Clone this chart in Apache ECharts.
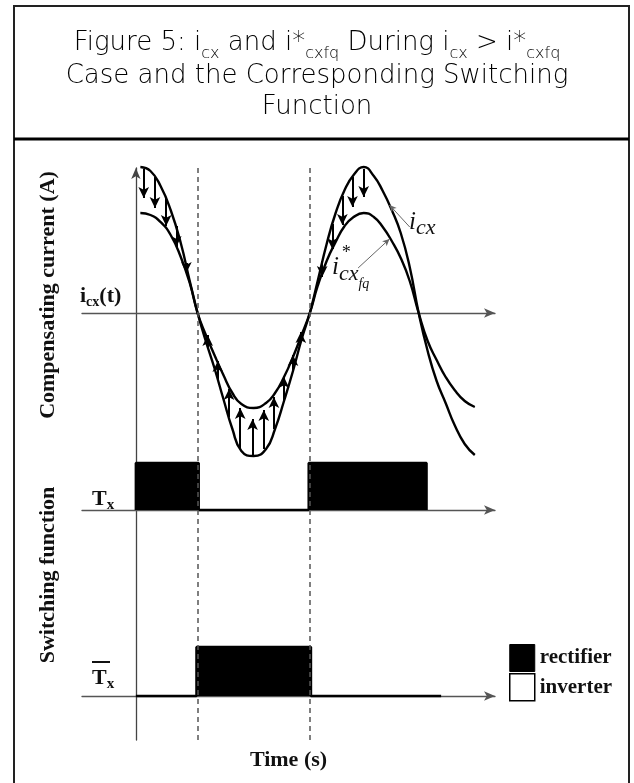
<!DOCTYPE html>
<html><head><meta charset="utf-8">
<script src="https://cdn.jsdelivr.net/npm/echarts@6/dist/echarts.min.js"></script>
<style>html,body{margin:0;padding:0;background:#fff}#c{width:634px;height:783px}</style>
</head><body><div id="c"></div>
<script>
// ---- data (time in ms, current in A, arbitrary scale) ----
const curveTime = [0.4, 1.3, 2.2, 3.1, 4.0, 4.8, 5.5, 6.2, 7.0, 7.8, 8.6, 9.4, 10.5, 11.6, 12.4, 13.2, 14.0, 14.8, 15.5, 16.2, 17.0, 17.8, 18.6, 19.4, 20.3, 21.2, 22.0, 22.8, 23.6, 24.4, 25.2, 26.0, 26.8, 27.6, 28.4, 29.3, 30.2];
const icxValue  = [1.46, 1.42, 1.27, 1.03, 0.70, 0.32, 0.00, -0.27, -0.55, -0.86, -1.16, -1.38, -1.43, -1.36, -1.16, -0.88, -0.58, -0.25, 0.00, 0.32, 0.69, 1.00, 1.23, 1.38, 1.46, 1.37, 1.22, 1.03, 0.80, 0.46, 0.00, -0.38, -0.68, -0.90, -1.12, -1.31, -1.42];
const fqValue   = [1.00, 0.98, 0.91, 0.78, 0.56, 0.30, 0.00, -0.21, -0.42, -0.62, -0.80, -0.91, -0.95, -0.90, -0.80, -0.64, -0.44, -0.21, 0.00, 0.27, 0.52, 0.71, 0.87, 0.96, 1.00, 0.96, 0.86, 0.72, 0.55, 0.32, 0.00, -0.28, -0.47, -0.64, -0.77, -0.88, -0.94];

const downArrowTime = [0.7, 1.7, 2.7, 3.6, 4.5, 16.6, 17.5, 18.4, 19.3, 20.3];
const downArrowFrom = [1.44, 1.36, 1.15, 0.87, 0.50, 0.52, 0.89, 1.17, 1.36, 1.44];
const downArrowTo   = [1.15, 1.05, 0.87, 0.66, 0.40, 0.36, 0.64, 0.88, 1.06, 1.16];
const upArrowTime = [6.4, 7.3, 8.3, 9.3, 10.4, 11.4, 12.3, 13.2, 14.0, 14.7];
const upArrowFrom = [-0.34, -0.66, -1.04, -1.35, -1.42, -1.36, -1.16, -0.87, -0.58, -0.29];
const upArrowTo   = [-0.22, -0.48, -0.76, -0.95, -1.06, -0.97, -0.84, -0.64, -0.42, -0.19];

const leaderStart = [[24.4, 0.86], [19.8, 0.45]];
const leaderEnd   = [[22.6, 1.08], [22.6, 0.74]];

const zeroCrossings = [5.5, 15.5];
const txOnStart = [0, 15.4];
const txOnEnd   = [5.6, 25.9];
const txBarOnStart = [5.4];
const txBarOnEnd   = [15.6];
const txBarLineEnd = 27.2;
const legendNames = ['rectifier', 'inverter'];
const tMin = -4.8, tMax = 32;

// ---- build series data ----
const icxData = curveTime.map((t, i) => [t, icxValue[i]]);
const fqData = curveTime.map((t, i) => [t, fqValue[i]]);
const arrowLines = [];
downArrowTime.forEach((t, i) => arrowLines.push([{coord: [t, downArrowFrom[i]]}, {coord: [t, downArrowTo[i]]}]));
upArrowTime.forEach((t, i) => arrowLines.push([{coord: [t, upArrowFrom[i]]}, {coord: [t, upArrowTo[i]]}]));
const leaderLines = leaderStart.map((s, i) => [{coord: s}, {coord: leaderEnd[i]}]);

function stepData(starts, ends, lineEnd) {
  const d = [[0, 0]];
  starts.forEach((s, i) => { d.push([s, 0], [s, 1], [ends[i], 1], [ends[i], 0]); });
  if (lineEnd !== undefined) d.push([lineEnd, 0]);
  return d;
}
const txData = stepData(txOnStart, txOnEnd);
const txBarData = stepData(txBarOnStart, txBarOnEnd, txBarLineEnd);

const SERIF = 'Liberation Serif';
const TITLEFONT = 'DejaVu Sans';
const axisArrow = {show: true, onZero: true, symbol: ['none', 'arrow'], symbolSize: [7, 11], lineStyle: {color: '#555', width: 1.3}};
function xAx(i, extra) {
  return Object.assign({type: 'value', gridIndex: i, min: tMin, max: tMax,
    axisLine: i < 3 ? axisArrow : {show: false}, axisTick: {show: false}, axisLabel: {show: false}, splitLine: {show: false}}, extra || {});
}
function yAx(i, min, max, line) {
  return {type: 'value', gridIndex: i, min: min, max: max,
    axisLine: line ? {show: true, onZero: true, symbol: ['none', 'arrow'], symbolSize: [7, 11], lineStyle: {color: '#444', width: 1.3}} : {show: false},
    axisTick: {show: false}, axisLabel: {show: false}, splitLine: {show: false}};
}
const subRich = (size, pad) => ({fontFamily: SERIF, fontWeight: 'bold', fontSize: size, lineHeight: size, padding: [pad, 0, 0, 0], verticalAlign: 'top'});

const chart = echarts.init(document.getElementById('c'), null, {renderer: 'canvas'});
chart.setOption({
  animation: false,
  backgroundColor: '#fff',
  title: {
    left: 'center', top: 30, padding: [0, 0, 0, 4],
    text: '{m|Figure 5: i}{s|cx}{m| and i*}{s|cxfq}{m| During i}{s|cx}{m| > i*}{s|cxfq}\nCase and the Corresponding Switching\nFunction',
    textStyle: {
      fontFamily: TITLEFONT, fontSize: 26, fontWeight: 200, color: '#000', lineHeight: 31,
      rich: {
        m: {fontFamily: TITLEFONT, fontSize: 26, fontWeight: 200, lineHeight: 31, verticalAlign: 'top', color: '#000'},
        s: {fontFamily: TITLEFONT, fontSize: 16, fontWeight: 200, lineHeight: 16, padding: [16, 0, 0, 0], verticalAlign: 'top', color: '#000'}
      }
    }
  },
  legend: {
    data: [
      {name: legendNames[0], icon: 'rect', itemStyle: {color: '#000', borderColor: '#000', borderWidth: 1}},
      {name: legendNames[1], icon: 'rect', itemStyle: {color: '#fff', borderColor: '#000', borderWidth: 1.5}}
    ],
    orient: 'vertical', left: 509, top: 644, itemWidth: 25, itemHeight: 27, itemGap: 1, padding: 0,
    selectedMode: false,
    textStyle: {fontFamily: SERIF, fontWeight: 'bold', fontSize: 21, color: '#111'}
  },
  grid: [
    {left: 82, width: 413, top: 163, height: 300},
    {left: 82, width: 413, top: 463, height: 47},
    {left: 82, width: 413, top: 647, height: 49},
    {left: 82, width: 413, top: 168, height: 572}
  ],
  xAxis: [
    xAx(0), xAx(1),
    xAx(2, {name: 'Time (s)', nameLocation: 'middle', nameGap: 53,
      nameTextStyle: {fontFamily: SERIF, fontWeight: 'bold', fontSize: 22, color: '#111'}}),
    xAx(3)
  ],
  yAxis: [yAx(0, -1.5, 1.5), yAx(1, 0, 1), yAx(2, 0, 1), yAx(3, 0, 1, true)],
  series: [
    {type: 'line', xAxisIndex: 3, yAxisIndex: 3, data: [[0, 0]], showSymbol: false, lineStyle: {width: 0}, z: 1, silent: true,
      markLine: {silent: true, symbol: 'none', label: {show: false},
        lineStyle: {type: [5, 4], color: '#555', width: 1.5},
        data: zeroCrossings.map(t => ({xAxis: t}))}},
    {type: 'line', name: 'icx', xAxisIndex: 0, yAxisIndex: 0, data: icxData, smooth: 0.5,
      showSymbol: false, clip: false, lineStyle: {color: '#000', width: 2.4}, z: 4, silent: true,
      markLine: {silent: true, symbol: ['none', 'arrow'], symbolSize: [8, 11], label: {show: false},
        lineStyle: {type: 'solid', color: '#000', width: 2}, data: arrowLines}},
    {type: 'line', name: 'icxfq', xAxisIndex: 0, yAxisIndex: 0, data: fqData, smooth: 0.5,
      showSymbol: false, clip: false, lineStyle: {color: '#000', width: 2.4}, z: 4, silent: true,
      markLine: {silent: true, symbol: ['none', 'arrow'], symbolSize: [5, 7], label: {show: false},
        lineStyle: {type: 'solid', color: '#666', width: 1}, data: leaderLines}},
    {type: 'line', name: legendNames[0], xAxisIndex: 1, yAxisIndex: 1, data: txData, showSymbol: false, clip: false,
      lineStyle: {color: '#000', width: 2.5}, itemStyle: {color: '#000'}, areaStyle: {color: '#000', opacity: 1}, z: 3, silent: true},
    {type: 'line', name: legendNames[0], xAxisIndex: 2, yAxisIndex: 2, data: txBarData, showSymbol: false, clip: false,
      lineStyle: {color: '#000', width: 2.5}, itemStyle: {color: '#000'}, areaStyle: {color: '#000', opacity: 1}, z: 3, silent: true},
    {type: 'line', name: legendNames[1], xAxisIndex: 2, yAxisIndex: 2, data: [], itemStyle: {color: '#fff'}}
  ],
  graphic: [
    {type: 'rect', silent: true, shape: {x: 14, y: 6, width: 615, height: 800}, style: {fill: 'none', stroke: '#222', lineWidth: 2}},
    {type: 'line', silent: true, shape: {x1: 14, y1: 139, x2: 629, y2: 139}, style: {stroke: '#000', lineWidth: 3}},
    {type: 'text', x: 48, y: 295, rotation: Math.PI / 2, silent: true,
      style: {text: 'Compensating current (A)', fontFamily: SERIF, fontWeight: 'bold', fontSize: 22, fill: '#111', align: 'center', verticalAlign: 'middle'}},
    {type: 'text', x: 48, y: 575, rotation: Math.PI / 2, silent: true,
      style: {text: 'Switching function', fontFamily: SERIF, fontWeight: 'bold', fontSize: 22, fill: '#111', align: 'center', verticalAlign: 'middle'}},
    {type: 'text', x: 80, y: 285, silent: true,
      style: {text: '{b|i}{s|cx}{b|(t)}', fill: '#111', align: 'left', verticalAlign: 'top',
        rich: {b: subRich(22, 0), s: subRich(14, 10)}}},
    {type: 'text', x: 92, y: 488, silent: true,
      style: {text: '{b|T}{s|x}', fill: '#111', align: 'left', verticalAlign: 'top',
        rich: {b: subRich(22, 0), s: subRich(15, 10)}}},
    {type: 'text', x: 92, y: 667, silent: true,
      style: {text: '{b|T}{s|x}', fill: '#111', align: 'left', verticalAlign: 'top',
        rich: {b: subRich(22, 0), s: subRich(15, 10)}}},
    {type: 'line', silent: true, shape: {x1: 92, y1: 662, x2: 110, y2: 662}, style: {stroke: '#111', lineWidth: 2}},
    {type: 'text', x: 409, y: 210, silent: true,
      style: {text: '{i|i}{s|cx}', fill: '#111', align: 'left', verticalAlign: 'top',
        rich: {i: {fontFamily: SERIF, fontStyle: 'italic', fontSize: 25, lineHeight: 25, verticalAlign: 'top'},
               s: {fontFamily: SERIF, fontStyle: 'italic', fontSize: 22, lineHeight: 22, padding: [7, 0, 0, 0], verticalAlign: 'top'}}}},
    {type: 'text', x: 332, y: 255, silent: true,
      style: {text: '{i|i}{s|cx}{f|fq}', fill: '#111', align: 'left', verticalAlign: 'top',
        rich: {i: {fontFamily: SERIF, fontStyle: 'italic', fontSize: 25, lineHeight: 25, verticalAlign: 'top'},
               s: {fontFamily: SERIF, fontStyle: 'italic', fontSize: 22, lineHeight: 22, padding: [8, 0, 0, 0], verticalAlign: 'top'},
               f: {fontFamily: SERIF, fontStyle: 'italic', fontSize: 14, lineHeight: 14, padding: [22, 0, 0, 0], verticalAlign: 'top'}}}},
    {type: 'text', x: 341, y: 244, silent: true,
      style: {text: '*', fontFamily: SERIF, fontStyle: 'italic', fontSize: 18, fill: '#111', align: 'left', verticalAlign: 'top'}}
  ]
});
</script>
</body></html>
